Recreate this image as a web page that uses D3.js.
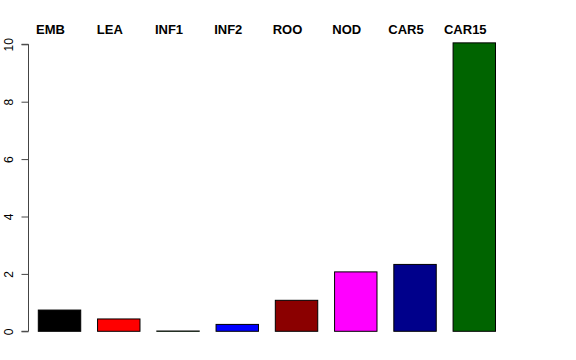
<!DOCTYPE html>
<html>
<head>
<meta charset="utf-8">
<script src="https://cdn.jsdelivr.net/npm/d3@7"></script>
<style>
  body { margin: 0; background: #fff; }
  svg { display: block; font-family: "Liberation Sans", Arial, sans-serif; }
</style>
</head>
<body>
<div class="canvas"></div>
<script>
const categories = ["EMB", "LEA", "INF1", "INF2", "ROO", "NOD", "CAR5", "CAR15"];
const values = [0.74, 0.43, 0.01, 0.24, 1.08, 2.07, 2.33, 10.05];
const colors = ["#000000", "#FF0000", "#00CD00", "#0000FF", "#8B0000", "#FF00FF", "#00008B", "#006400"];
const yTicks = [0, 2, 4, 6, 8, 10];

const dims = { width: 576, height: 360 };

const svg = d3
  .select(".canvas")
  .append("svg")
  .attr("width", dims.width)
  .attr("height", dims.height);

// x band scale (R barplot spacing)
const x = d3
  .scaleBand()
  .domain(categories)
  .range([38.3, 495.5])
  .paddingInner(0.284)
  .paddingOuter(0);

// y scale
const y = d3.scaleLinear().domain([0, 10]).range([331.3, 44.3]);

// bars
svg
  .selectAll("rect.bar")
  .data(categories)
  .enter()
  .append("rect")
  .attr("class", "bar")
  .attr("x", (d) => x(d))
  .attr("width", x.bandwidth())
  .attr("y", (d, i) => y(values[i]))
  .attr("height", (d, i) => y(0) - y(values[i]))
  .attr("fill", (d, i) => colors[i])
  .attr("stroke", "#000")
  .attr("stroke-width", 1);

// labels across the top (sit a bit left of the bar centres, like the original)
svg
  .selectAll("text.cat")
  .data(categories)
  .enter()
  .append("text")
  .attr("class", "cat")
  .attr("x", (d) => x(d) + x.bandwidth() / 2 - 9)
  .attr("y", 34)
  .attr("text-anchor", "middle")
  .attr("font-size", 13)
  .attr("font-weight", "bold")
  .text((d) => d);

// y axis
const yAxis = d3.axisLeft(y).tickValues(yTicks).tickSize(7).tickPadding(3);
const ax = svg.append("g").attr("transform", "translate(28.5,0)").call(yAxis);
ax.select(".domain").attr("stroke", "#444").attr("d", `M-7,${y(0)}H0V${y(10)}H-7`);
ax.selectAll(".tick line").attr("stroke", "#444");
ax.selectAll(".tick text")
  .attr("font-size", 12)
  .attr("font-family", "Liberation Sans, Arial, sans-serif")
  .attr("fill", "#000")
  .attr("text-anchor", "middle")
  .attr("x", 0)
  .attr("y", 0)
  .attr("dy", null)
  .attr("transform", "translate(-16,0) rotate(-90)");
</script>
</body>
</html>
